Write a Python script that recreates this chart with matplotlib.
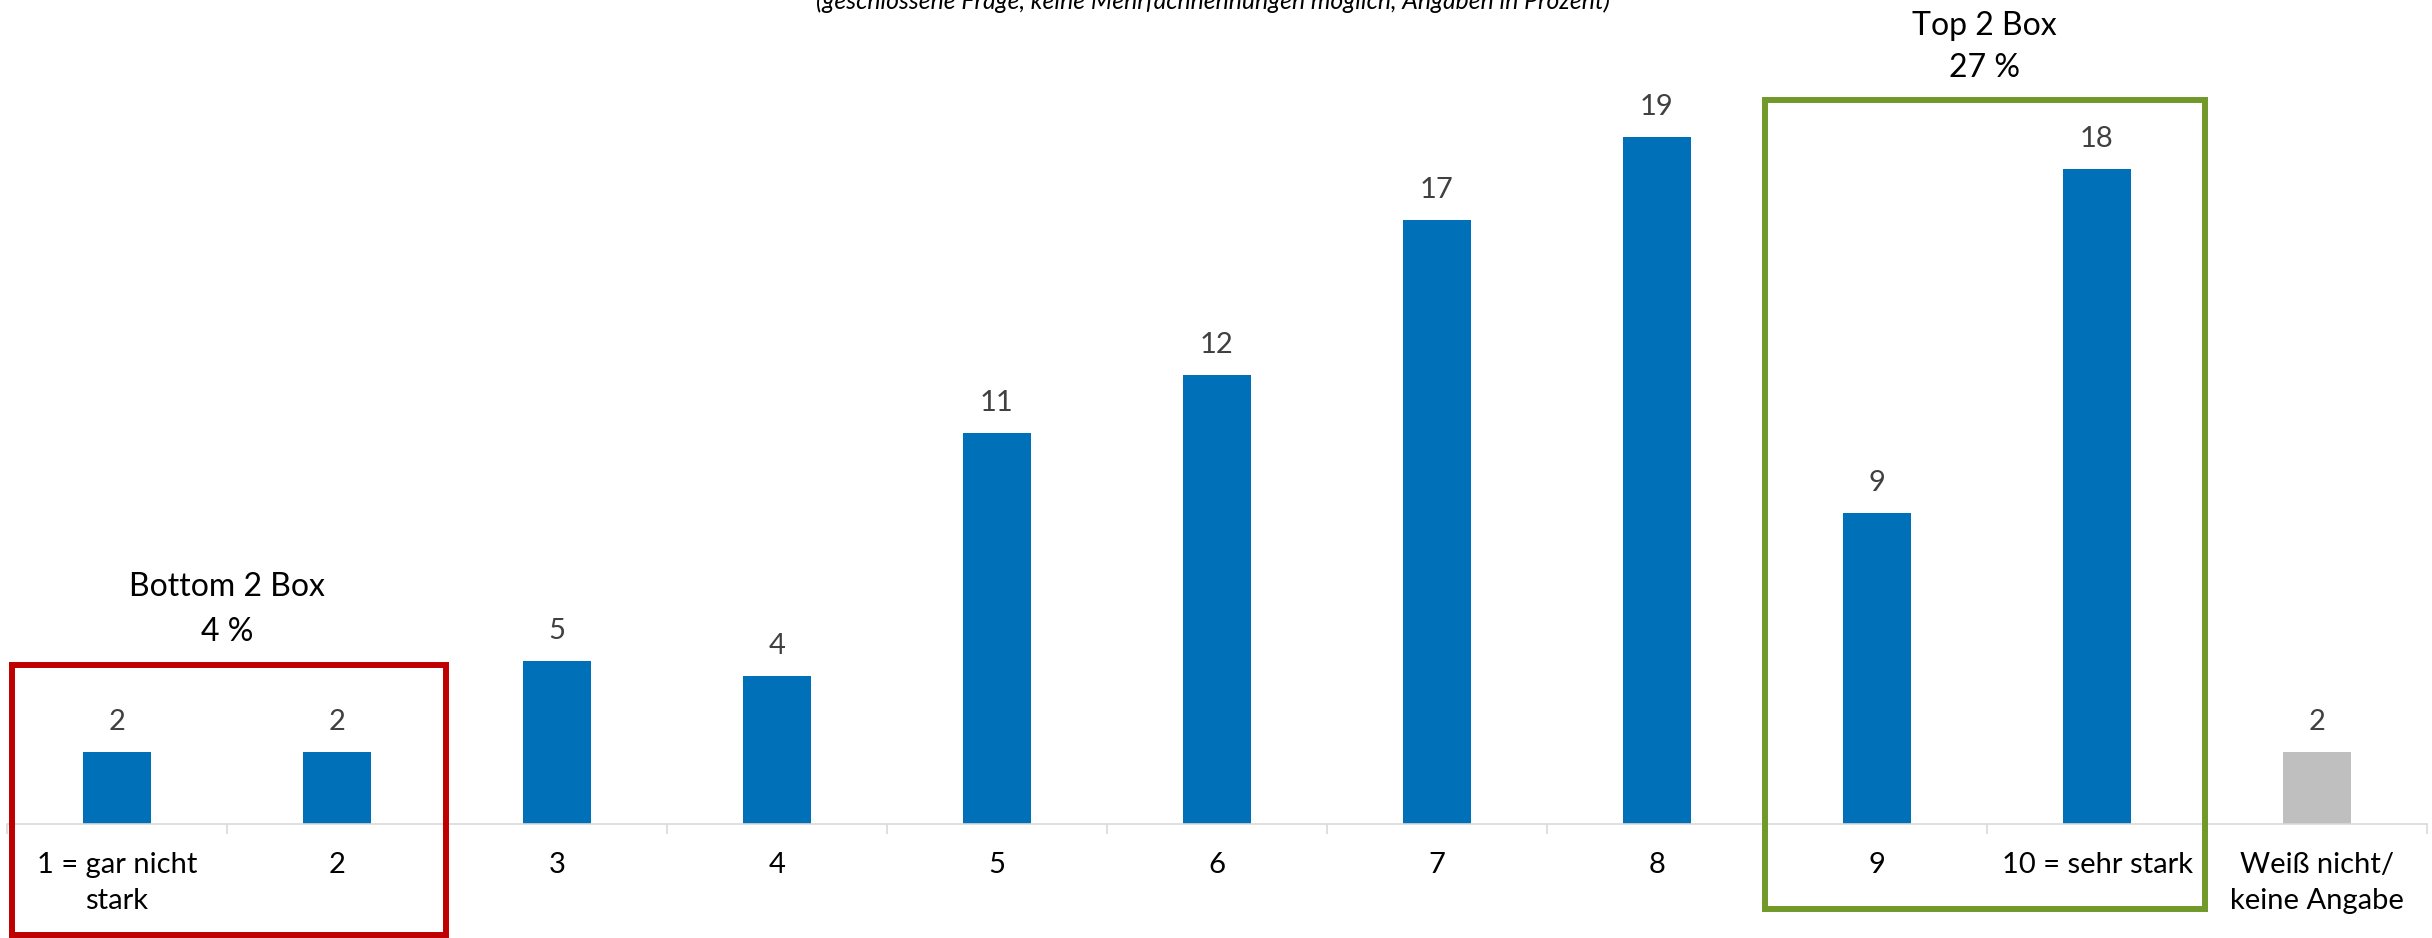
import matplotlib
matplotlib.use("Agg")
import matplotlib.pyplot as plt
from matplotlib.patches import Rectangle
import numpy as np

# Data (bar heights, labels as printed)
categories = ["1 = gar nicht\nstark", "2", "3", "4", "5", "6", "7", "8", "9",
              "10 = sehr stark", "Weiß nicht/\nkeine Angabe"]
values = [2.0, 2.0, 4.5, 4.1, 10.8, 12.4, 16.7, 19.0, 8.6, 18.1, 2.0]
value_labels = ["2", "2", "5", "4", "11", "12", "17", "19", "9", "18", "2"]
bar_colors = ["#0071B8"] * 10 + ["#BFBFBF"]

subtitle = "(geschlossene Frage, keine Mehrfachnennungen möglich, Angaben in Prozent)"
bottom_box_label = ["Bottom 2 Box", "4 %"]
top_box_label = ["Top 2 Box", "27 %"]

plt.rcParams['font.family'] = ['Lato', 'DejaVu Sans']

W, H = 2432, 938
fig = plt.figure(figsize=(W / 100, H / 100), dpi=100)

# axes placed in pixel terms of the reference
ax_left, ax_right, ax_base = 7, 2427, 824
ax = fig.add_axes([ax_left / W, (H - ax_base) / H, (ax_right - ax_left) / W, ax_base / H])
px_per_unit = 36.18
ax.set_xlim(-0.5, len(categories) - 0.5)
ax.set_ylim(0, ax_base / px_per_unit)

x = np.arange(len(categories))
ax.bar(x, values, width=0.31, color=bar_colors, zorder=2)

for xi, v, lab in zip(x, values, value_labels):
    ax.text(xi, v + 0.83, lab, ha="center", va="center",
            fontsize=21, color="#404040")

# axis styling
for s in ["top", "left", "right"]:
    ax.spines[s].set_visible(False)
ax.spines["bottom"].set_color("#D9D9D9")
ax.spines["bottom"].set_linewidth(1.2)
ax.set_yticks([])
ax.set_xticks(x)
ax.set_xticklabels(categories, fontsize=21, color="black", linespacing=1.5)
ax.tick_params(axis="x", which="major", length=0, pad=20)
ax.set_xticks(np.arange(-0.5, len(categories), 1), minor=True)
ax.tick_params(axis="x", which="minor", length=7.5, width=1.2, color="#D9D9D9")

# Bottom 2 / Top 2 boxes
red_box = Rectangle((-0.477, -3.07), 1.972, 3.07 + 4.39, fill=False,
                    edgecolor="#C00000", linewidth=4.3, clip_on=False, zorder=3)
green_box = Rectangle((7.49, -2.35), 2.0, 22.35, fill=False,
                      edgecolor="#71992A", linewidth=4.3, clip_on=False, zorder=3)
ax.add_patch(red_box)
ax.add_patch(green_box)

ax.text(0.5, 6.55, bottom_box_label[0], ha="center", va="center", fontsize=23, color="black")
ax.text(0.5, 5.31, bottom_box_label[1], ha="center", va="center", fontsize=23, color="black")
ax.text(8.49, 22.06, top_box_label[0], ha="center", va="center", fontsize=23, color="black")
ax.text(8.49, 20.9, top_box_label[1], ha="center", va="center", fontsize=23, color="black")

# subtitle, cut at the top edge as in the source
fig.text(1213 / W, 1 - 9 / H, subtitle, ha="center", va="baseline",
         fontsize=17.8, style="italic", color="black")

fig.savefig("out.png", dpi=100)
